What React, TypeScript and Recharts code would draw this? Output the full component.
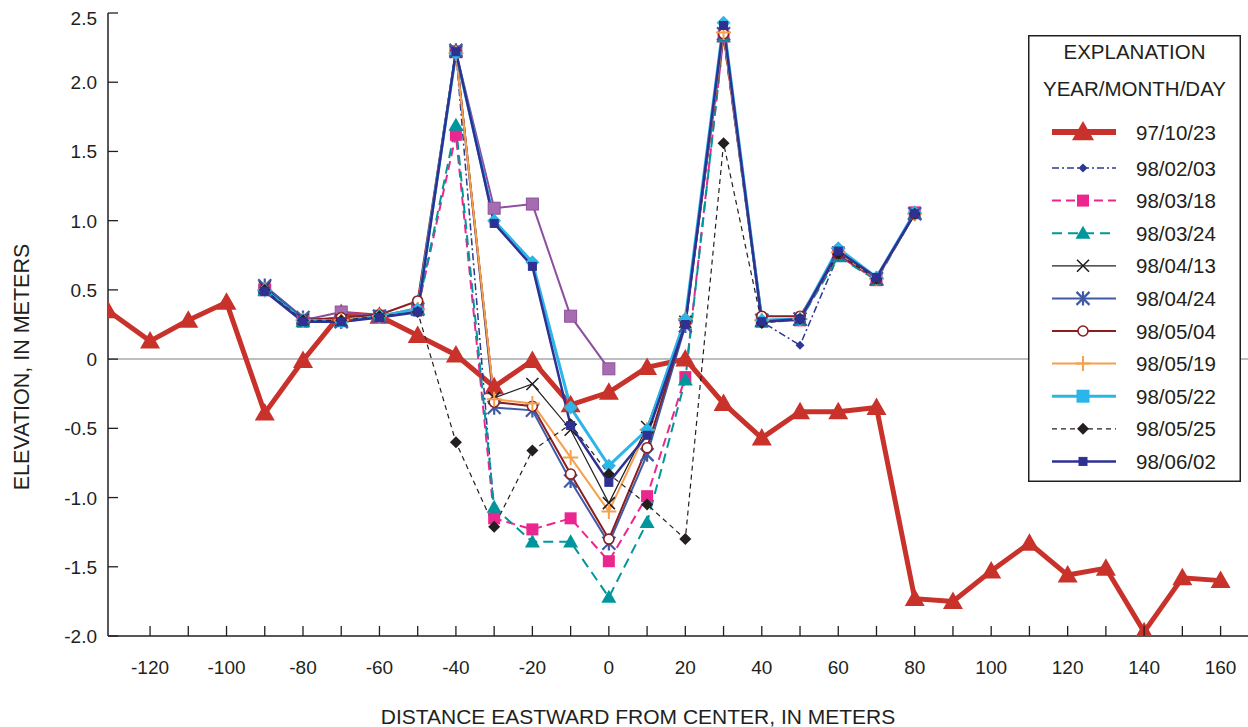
import React from "react";
import { LineChart, Line, XAxis, YAxis, ReferenceLine, Legend } from "recharts";

const FONT = '"Liberation Sans", Arial, Helvetica, sans-serif';
const INK = "#231f20";

// stations, meters east of center
const profileX = [
  -131, -120, -110, -100, -90, -80, -70, -60, -50, -40, -30, -20, -10, 0, 10,
  20, 30, 40, 50, 60, 70, 80, 90, 100, 110, 120, 130, 140, 150, 160,
];
const stationX = [
  -90, -80, -70, -60, -50, -40, -30, -20, -10, 0, 10, 20, 30, 40, 50, 60, 70, 80,
];

// elevations, meters
const elev971023 = [
  0.35, 0.13, 0.28, 0.41, -0.39, -0.01, 0.33, 0.31, 0.17, 0.03, -0.2, -0.01,
  -0.33, -0.24, -0.06, 0.0, -0.32, -0.57, -0.38, -0.38, -0.35, -1.73, -1.75,
  -1.53, -1.33, -1.56, -1.51, -1.97, -1.58, -1.6,
];
const elevUnlabeled = [
  0.5, 0.28, 0.34, 0.31, 0.37, 2.22, 1.09, 1.12, 0.31, -0.07, null, null, null,
  null, null, null, null, null,
];
const elev980203 = [
  0.52, 0.28, 0.28, 0.3, 0.35, 2.22, -1.1, null, null, null, null, null, 2.38,
  0.27, 0.1, 0.75, 0.58, 1.05,
];
const elev980318 = [
  0.5, 0.27, 0.28, 0.31, 0.36, 1.62, -1.15, -1.23, -1.15, -1.46, -0.99, -0.13,
  2.33, 0.27, 0.28, 0.75, 0.57, 1.06,
];
const elev980324 = [
  0.5, 0.27, 0.27, 0.31, 0.36, 1.69, -1.07, -1.32, -1.32, -1.72, -1.18, -0.15,
  2.33, 0.27, 0.28, 0.74, 0.57, 1.05,
];
const elev980413 = [
  0.52, 0.29, 0.28, 0.31, 0.36, 2.22, -0.28, -0.18, -0.51, -1.04, -0.49, 0.27,
  2.35, 0.28, 0.29, 0.77, 0.58, 1.05,
];
const elev980424 = [
  0.53, 0.3, 0.27, 0.31, 0.36, 2.23, -0.35, -0.37, -0.88, -1.33, -0.69, 0.24,
  2.35, 0.28, 0.29, 0.76, 0.58, 1.05,
];
const elev980504 = [
  0.5, 0.28, 0.3, 0.32, 0.42, 2.22, -0.31, -0.34, -0.83, -1.3, -0.64, 0.26,
  2.35, 0.31, 0.31, 0.76, 0.58, 1.05,
];
const elev980519 = [
  0.5, 0.28, 0.28, 0.31, 0.36, 2.21, -0.29, -0.32, -0.71, -1.1, -0.51, 0.29,
  2.36, 0.28, 0.29, 0.77, 0.58, 1.05,
];
const elev980522 = [
  0.5, 0.28, 0.27, 0.31, 0.36, 2.21, 1.0, 0.7, -0.35, -0.77, -0.51, 0.29, 2.43,
  0.28, 0.29, 0.8, 0.59, 1.06,
];
const elev980525 = [
  0.5, 0.28, 0.28, 0.31, 0.34, -0.6, -1.21, -0.66, -0.47, -0.83, -1.05, -1.3,
  1.56, 0.26, 0.29, 0.76, 0.58, 1.05,
];
const elev980602 = [
  0.49, 0.27, 0.27, 0.3, 0.34, 2.22, 0.98, 0.67, -0.48, -0.89, -0.55, 0.25,
  2.41, 0.27, 0.29, 0.78, 0.59, 1.05,
];

const xTicks = [
  -120, -110, -100, -90, -80, -70, -60, -50, -40, -30, -20, -10, 0, 10, 20, 30,
  40, 50, 60, 70, 80, 90, 100, 110, 120, 130, 140, 150, 160,
];
const yTicks = [-2, -1.5, -1, -0.5, 0, 0.5, 1, 1.5, 2, 2.5];
const X_DOMAIN = [-131, 169];
const Y_DOMAIN = [-2, 2.5];

type Shape = "triangle" | "diamond" | "square" | "x" | "asterisk" | "circle" | "plus";

interface Series {
  label: string | null;
  xs: number[];
  ys: (number | null)[];
  color: string;
  width: number;
  dash?: string;
  shape: Shape;
  size: number;
  fill?: string;
  edge?: string;
  legendShape?: Shape;
  legendSize?: number;
}

const SERIES: Series[] = [
  { label: "97/10/23", xs: profileX, ys: elev971023, color: "#c8322b", width: 5, shape: "triangle", size: 20, legendSize: 22 },
  { label: null, xs: stationX, ys: elevUnlabeled, color: "#8d4f9f", width: 2, shape: "square", size: 12, fill: "#a56db0" },
  { label: "98/02/03", xs: stationX, ys: elev980203, color: "#2b3990", width: 1.5, dash: "7 3 2 3", shape: "diamond", size: 9 },
  { label: "98/03/18", xs: stationX, ys: elev980318, color: "#ec268f", width: 2, dash: "9 5", shape: "square", size: 12 },
  { label: "98/03/24", xs: stationX, ys: elev980324, color: "#00979c", width: 2, dash: "10 6", shape: "triangle", size: 15 },
  { label: "98/04/13", xs: stationX, ys: elev980413, color: INK, width: 1.2, shape: "x", size: 12 },
  { label: "98/04/24", xs: stationX, ys: elev980424, color: "#3f5aa8", width: 2, shape: "asterisk", size: 13 },
  { label: "98/05/04", xs: stationX, ys: elev980504, color: "#8b1e1e", width: 2, shape: "circle", size: 10 },
  { label: "98/05/19", xs: stationX, ys: elev980519, color: "#f6a04d", width: 2, shape: "plus", size: 15 },
  { label: "98/05/22", xs: stationX, ys: elev980522, color: "#2bb5e8", width: 3, shape: "diamond", size: 14, legendShape: "square", legendSize: 13 },
  { label: "98/05/25", xs: stationX, ys: elev980525, color: INK, width: 1.2, dash: "5 4", shape: "diamond", size: 12 },
  { label: "98/06/02", xs: stationX, ys: elev980602, color: "#2e3192", width: 2.5, shape: "square", size: 8, edge: "#15173f" },
];

const toPoints = (xs: number[], ys: (number | null)[]) =>
  xs.map((x, i) => ({ x, y: ys[i] }));

function Marker({ shape, cx, cy, color, size, fill, edge }: {
  shape: Shape; cx: number; cy: number; color: string; size: number; fill?: string; edge?: string;
}) {
  const h = size / 2;
  switch (shape) {
    case "triangle":
      return <polygon points={`${cx},${cy - h} ${cx + h},${cy + h * 0.75} ${cx - h},${cy + h * 0.75}`} fill={color} />;
    case "diamond":
      return <polygon points={`${cx},${cy - h} ${cx + h},${cy} ${cx},${cy + h} ${cx - h},${cy}`} fill={color} />;
    case "square":
      return <rect x={cx - h} y={cy - h} width={size} height={size} fill={fill ?? color} stroke={edge ?? fill ? color : "none"} strokeWidth={1} />;
    case "x":
      return <path d={`M${cx - h},${cy - h}L${cx + h},${cy + h}M${cx + h},${cy - h}L${cx - h},${cy + h}`} stroke={color} strokeWidth={1.6} fill="none" />;
    case "asterisk":
      return (
        <path
          d={`M${cx - h},${cy - h}L${cx + h},${cy + h}M${cx + h},${cy - h}L${cx - h},${cy + h}M${cx},${cy - h * 1.1}L${cx},${cy + h * 1.1}`}
          stroke={color} strokeWidth={2.2} fill="none"
        />
      );
    case "circle":
      return <circle cx={cx} cy={cy} r={h} fill="#fff" stroke={color} strokeWidth={1.6} />;
    case "plus":
      return <path d={`M${cx - h},${cy}L${cx + h},${cy}M${cx},${cy - h}L${cx},${cy + h}`} stroke={color} strokeWidth={2} fill="none" />;
  }
  return null;
}

const fmtY = (v: number) => (v === 0 ? "0" : v.toFixed(1));

const BottomTick = (p: any) => {
  const { x, y, payload } = p;
  const v = payload.value as number;
  return (
    <g>
      <line x1={x} y1={y} x2={x} y2={y - 10} stroke={INK} strokeWidth={1.3} />
      {v % 20 === 0 && (
        <text x={x} y={y + 38} textAnchor="middle" fontSize={19} fill={INK}>{v}</text>
      )}
    </g>
  );
};

const TopTick = (p: any) => (
  <line x1={p.x} y1={p.y} x2={p.x} y2={p.y + 10} stroke={INK} strokeWidth={1.3} />
);

const LeftTick = (p: any) => {
  const { x, y, payload } = p;
  const v = payload.value as number;
  const shift = v === Y_DOMAIN[1] ? 5 : 0;
  return (
    <g>
      <line x1={x} y1={y} x2={x + 10} y2={y} stroke={INK} strokeWidth={1.3} />
      <text x={x - 11} y={y + 7 + shift} textAnchor="end" fontSize={19} fill={INK}>{fmtY(v)}</text>
    </g>
  );
};

const RightTick = (p: any) => (
  <line x1={p.x} y1={p.y} x2={p.x - 10} y2={p.y} stroke={INK} strokeWidth={1.3} />
);

const YTitle = () => (
  <text x={29} y={367} transform="rotate(-90, 29, 367)" textAnchor="middle" fontSize={21.5} fill={INK}>
    ELEVATION, IN METERS
  </text>
);

const XTitle = () => (
  <text x={638} y={724} textAnchor="middle" fontSize={21} fill={INK}>
    DISTANCE EASTWARD FROM CENTER, IN METERS
  </text>
);

const BOX_W = 213;
const BOX_H = 447;
const rowY = (i: number) => (i === 0 ? 97 : 133 + (i - 1) * 32.6);

function ExplanationBox() {
  const rows = SERIES.filter((s) => s.label);
  return (
    <svg width={BOX_W} height={BOX_H} style={{ display: "block", fontFamily: FONT }}>
      <rect x={0.75} y={0.75} width={BOX_W - 1.5} height={BOX_H - 1.5} fill="#fff" stroke={INK} strokeWidth={1.5} />
      <text x={BOX_W / 2} y={24} textAnchor="middle" fontSize={20.5} fill={INK}>EXPLANATION</text>
      <text x={BOX_W / 2} y={61} textAnchor="middle" fontSize={20.5} fill={INK}>YEAR/MONTH/DAY</text>
      {rows.map((s, i) => {
        const y = rowY(i);
        return (
          <g key={s.label!}>
            <line x1={24} x2={88} y1={y} y2={y} stroke={s.color} strokeWidth={s.label === "97/10/23" ? 6 : s.width} strokeDasharray={s.dash} />
            <Marker
              shape={s.legendShape ?? s.shape}
              cx={55}
              cy={y}
              color={s.color}
              size={s.legendSize ?? s.size}
              fill={s.fill}
              edge={s.edge}
            />
            <text x={108} y={y + 7.5} fontSize={20.5} fill={INK}>{s.label}</text>
          </g>
        );
      })}
    </svg>
  );
}

export default function App() {
  return (
    <div style={{ position: "absolute", left: 0, top: 0, width: 1248, height: 727, overflow: "hidden", background: "#fff", fontFamily: FONT }}>
      <LineChart width={1256} height={727} margin={{ top: 13, right: 1, bottom: 0, left: 0 }} style={{ fontFamily: FONT }}>
        <XAxis
          dataKey="x" type="number" domain={X_DOMAIN} ticks={xTicks} interval={0} allowDataOverflow
          height={91} tickSize={0} tickMargin={0} tickLine={false} tick={<BottomTick />}
          axisLine={{ stroke: INK, strokeWidth: 1.5 }} label={<XTitle />}
        />
        <XAxis
          xAxisId="top" orientation="top" dataKey="x" type="number" domain={X_DOMAIN} ticks={xTicks} interval={0} allowDataOverflow
          height={0} tickSize={0} tickMargin={0} tickLine={false} tick={<TopTick />}
          axisLine={{ stroke: INK, strokeWidth: 1.5 }}
        />
        <YAxis
          type="number" domain={Y_DOMAIN} ticks={yTicks} interval={0} allowDataOverflow
          width={108} tickSize={0} tickMargin={0} tickLine={false} tick={<LeftTick />}
          axisLine={{ stroke: INK, strokeWidth: 1.5 }} label={<YTitle />}
        />
        <YAxis
          yAxisId="right" orientation="right" type="number" domain={Y_DOMAIN} ticks={yTicks} interval={0} allowDataOverflow
          width={0} tickSize={0} tickMargin={0} tickLine={false} tick={<RightTick />}
          axisLine={{ stroke: INK, strokeWidth: 1.5 }}
        />
        <ReferenceLine y={0} stroke="#a7a9ac" strokeWidth={1.5} />
        {SERIES.map((s, i) => (
          <Line
            key={s.label ?? `extra-${i}`}
            data={toPoints(s.xs, s.ys)}
            dataKey="y"
            type="linear"
            stroke={s.color}
            strokeWidth={s.width}
            strokeDasharray={s.dash}
            connectNulls={false}
            activeDot={false}
            legendType="none"
            isAnimationActive={false}
            dot={(p: any) =>
              p.cx == null || p.cy == null || p.value == null ? (
                <g key={`d-${i}-${p.index}`} />
              ) : (
                <g key={`d-${i}-${p.index}`}>
                  <Marker shape={s.shape} cx={p.cx} cy={p.cy} color={s.color} size={s.size} fill={s.fill} edge={s.edge} />
                </g>
              )
            }
          />
        ))}
        <Legend
          layout="vertical"
          align="center"
          verticalAlign="middle"
          wrapperStyle={{ left: 1028, top: 35, width: BOX_W, height: BOX_H }}
          content={() => <ExplanationBox />}
        />
      </LineChart>
    </div>
  );
}
